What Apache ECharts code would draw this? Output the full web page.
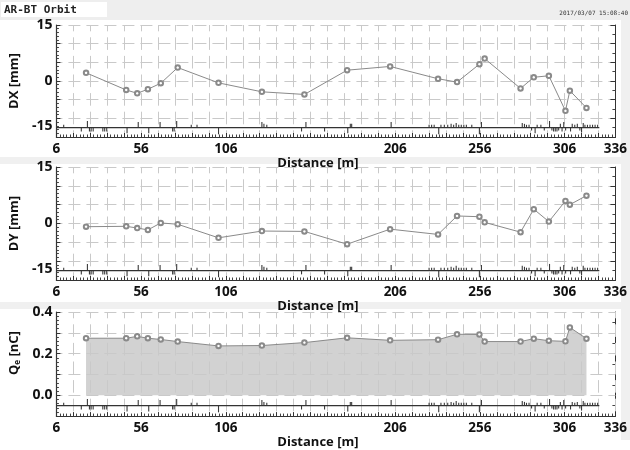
<!DOCTYPE html>
<html><head><meta charset="utf-8">
<script src="https://cdn.jsdelivr.net/npm/echarts@6/dist/echarts.min.js"></script>
<style>html,body{margin:0;padding:0;background:#fff}#c{width:630px;height:450px}</style>
</head><body><div id="c"></div><script>
// ---- data ----
const titleText = 'AR-BT Orbit';
const timeStamp = '2017/03/07 15:08:40';
const bpmPositions = [23.5, 47.2, 53.7, 60, 67.6, 77.6, 101.7, 127.3, 152.4, 177.6, 203, 231.3, 242.5, 255.7, 258.8, 280, 287.8, 296.7, 306.5, 309.1, 318.9];
const dxValues = [2.2, -2.4, -3.3, -2.2, -0.6, 3.6, -0.5, -2.9, -3.6, 2.9, 3.9, 0.6, -0.3, 4.5, 6.0, -2.0, 1.0, 1.4, -8.0, -2.6, -7.2];
const dyValues = [-0.85, -0.75, -1.2, -1.7, 0.15, -0.2, -3.8, -2.0, -2.1, -5.5, -1.5, -2.9, 2.0, 1.8, 0.3, -2.3, 3.8, 0.5, 6.0, 5.0, 7.4];
const qeValues = [0.274, 0.274, 0.283, 0.274, 0.268, 0.258, 0.237, 0.239, 0.253, 0.276, 0.264, 0.267, 0.293, 0.292, 0.258, 0.258, 0.272, 0.262, 0.259, 0.326, 0.272];
const xTickLabels = [6, 56, 106, 206, 256, 306, 336];
const dTickLabels = [15, 0, -15];
const qTickLabels = [0.4, 0.2, 0.0];
const beamlineStart = 6, beamlineEnd = 326.5;
// lattice elements: [position m, signed strength]
const elementPos = [10.3, 20.7, 24.3, 25.5, 26.5, 27.7, 33.4, 34.5, 35.7, 47.7, 54.3, 60.5, 67.2, 74.6, 75.5, 77, 85.6, 89, 101.7,
  127.3, 128.5, 130.2, 150.7, 153.3, 164.3, 178, 179.5, 180.3, 203.6,
  226, 227.5, 229, 231.7, 233, 235, 237, 239, 240.5, 242, 243.5, 245, 246.5, 248, 251.2, 255.7, 256.9,
  281, 282.3, 283.5, 285, 286.5, 288.6, 289.8, 292, 294, 297.1,
  298.5, 299.5, 300.5, 301.5, 302.5, 303.5, 304.5, 305.5, 306.6,
  309.5, 310.5, 312, 313.5, 315, 316, 317, 318, 319.5, 321, 322.5, 324, 325.5];
const elementStrength = [1.5, -2, 3.5, -2, -2, -2, -2, -2, -2, -3, 3, -3, 3, -2, -2, 3.5, 1.5, 1.5, -3.5,
  3, 2, 1.5, -2, 3, -2, -3, 2, 2, 3,
  1.5, 1.5, 1.5, -3.5, 1.5, 1.5, 1.5, 2, 1.5, 2.5, 1.5, 1.5, 1.5, 1.5, 1.5, -3.5, 3,
  2.5, 2, 1.5, 1.5, -1.5, -3, 1.5, 1.5, -1.5, 3.5,
  -1.5, -2, -2, -2, -1.5, 2, -2, 3, -1.5,
  -2, 2, 1.5, 2, -1.5, -2.5, 2.5, 1.5, 1.5, 1.5, 1.5, 1.5, 1.5];

// ---- layout / style ----
const FONT = 'Open Sans';
const grids = [
  {left: 38.5, top: 25, width: 581, height: 112},
  {left: 38.5, top: 167, width: 581, height: 113},
  {left: 43, top: 312, width: 576, height: 113}
];
const railLevels = [-12.5, -12.5, -0.05];
const gridLine = {show: true, lineStyle: {color: '#c9c9c9', width: 1, type: [12, 6], dashOffset: 6}};

function xAxisFor(i) {
  return {
    type: 'value', gridIndex: i, min: 6, max: 336, interval: 10,
    name: 'Distance [m]', nameLocation: 'middle', nameGap: 9,
    nameTextStyle: {fontFamily: FONT, fontWeight: 'bold', fontSize: 13, color: '#111', padding: [0, 36, 0, 0], verticalAlign: 'top'},
    axisLine: {show: true, onZero: false, lineStyle: {color: '#333', width: 1.2}},
    axisTick: {show: true, inside: true, length: 4, lineStyle: {color: '#333'}},
    minorTick: {show: true, splitNumber: 5, length: 2.5, lineStyle: {color: '#444'}},
    axisLabel: {margin: 5, fontFamily: FONT, fontWeight: 'bold', fontSize: 13.5, color: '#111',
      formatter: v => xTickLabels.indexOf(Math.round(v)) >= 0 ? String(Math.round(v)) : ''},
    splitLine: {show: true, lineStyle: {color: '#c9c9c9', width: 1, type: [12.6, 6], dashOffset: 6.3}},
    z: i === 2 ? 3 : 0
  };
}
function yLeftD(i, name) {
  return {
    type: 'value', gridIndex: i, min: -15, max: 15, interval: 5, position: 'left',
    name: name, nameLocation: 'middle', nameGap: 13,
    nameTextStyle: {fontFamily: FONT, fontWeight: 'bold', fontSize: 13, color: '#111'},
    axisLine: {show: true, onZero: false, lineStyle: {color: '#333', width: 1.2}},
    axisTick: {show: true, inside: true, length: 4, lineStyle: {color: '#333'}},
    minorTick: {show: true, splitNumber: 5, length: 2.5, lineStyle: {color: '#444'}},
    axisLabel: {margin: 4, fontFamily: FONT, fontWeight: 'bold', fontSize: 14, color: '#111',
      formatter: v => {
        const r = Math.round(v);
        if (dTickLabels.indexOf(r) < 0) return '';
        return r === -15 ? '{lo|' + r + '}' : String(r);
      },
      rich: {lo: {fontFamily: FONT, fontWeight: 'bold', fontSize: 14, color: '#111', padding: [0, 0, 21, 0]}}},
    splitLine: gridLine
  };
}
function yRight(i, min, max, interval) {
  return {
    type: 'value', gridIndex: i, min: min, max: max, interval: interval, position: 'right',
    axisLine: {show: true, onZero: false, lineStyle: {color: '#333', width: 1}},
    axisTick: {show: true, inside: true, length: 5, lineStyle: {color: '#333'}},
    minorTick: {show: true, splitNumber: 2, length: 3, lineStyle: {color: '#444'}},
    axisLabel: {show: false}, splitLine: {show: false}
  };
}
const yLeftQ = {
  type: 'value', gridIndex: 2, min: -0.1, max: 0.4, interval: 0.1, position: 'left',
  name: '{b|Q}{s|e}{b| [nC]}', nameLocation: 'middle', nameGap: 16,
  nameTextStyle: {fontFamily: FONT, fontWeight: 'bold', fontSize: 13, color: '#111', padding: [0, 0, 0, 22],
    rich: {b: {fontFamily: FONT, fontWeight: 'bold', fontSize: 13, color: '#111'},
           s: {fontFamily: FONT, fontWeight: 'bold', fontSize: 8, color: '#111', verticalAlign: 'bottom', padding: [6, 0, 0, 0]}}},
  axisLine: {show: true, onZero: false, lineStyle: {color: '#333', width: 1.2}},
  axisTick: {show: true, inside: true, length: 4, lineStyle: {color: '#333'}},
  minorTick: {show: true, splitNumber: 5, length: 2.5, lineStyle: {color: '#444'}},
  axisLabel: {margin: 4, fontFamily: FONT, fontWeight: 'bold', fontSize: 14, color: '#111',
    formatter: v => {
      const r = Math.round(v * 10) / 10;
      return qTickLabels.some(t => Math.abs(t - r) < 1e-9) ? r.toFixed(1) : '';
    }},
  splitLine: gridLine,
  z: 3
};

function pairs(xs, ys) { return xs.map((x, k) => [x, ys[k]]); }
const elementData = pairs(elementPos, elementStrength);

function orbitSeries(gi, values, extra) {
  return Object.assign({
    type: 'line', xAxisIndex: gi, yAxisIndex: gi, data: pairs(bpmPositions, values),
    symbol: 'emptyCircle', symbolSize: 4.5, showSymbol: true,
    lineStyle: {color: '#8a8a8a', width: 1}, itemStyle: {color: '#8a8a8a', borderWidth: 1},
    animation: false, z: 5
  }, extra || {});
}
function railSeries(gi) {
  return {
    type: 'line', xAxisIndex: gi, yAxisIndex: gi, data: [[beamlineStart, railLevels[gi]], [beamlineEnd, railLevels[gi]]],
    symbol: 'none', lineStyle: {color: '#333', width: 1.2}, animation: false, z: 6
  };
}
function elementSeries(gi) {
  return {
    type: 'custom', xAxisIndex: gi, yAxisIndex: gi, data: elementData, animation: false, z: 6,
    renderItem: (params, api) => {
      const p = api.coord([api.value(0), railLevels[gi]]);
      return {type: 'line', shape: {x1: p[0], y1: p[1], x2: p[0], y2: p[1] - api.value(1) * 1.9},
        style: {stroke: '#3a3a3a', lineWidth: 1.1}};
    }
  };
}

const chart = echarts.init(document.getElementById('c'), null, {renderer: 'canvas'});
chart.setOption({
  backgroundColor: '#ffffff',
  animation: false,
  grid: grids,
  xAxis: [xAxisFor(0), xAxisFor(1), xAxisFor(2)],
  yAxis: [yLeftD(0, 'DX [mm]'), yLeftD(1, 'DY [mm]'), yLeftQ,
          yRight(0, -15, 15, 5), yRight(1, -15, 15, 5), yRight(2, -0.1, 0.4, 0.1)],
  graphic: [
    {type: 'rect', z: -10, shape: {x: 0, y: 0, width: 630, height: 20}, style: {fill: '#eeeeee'}},
    {type: 'rect', z: -9, shape: {x: 1, y: 2, width: 106, height: 15}, style: {fill: '#ffffff'}},
    {type: 'text', z: -8, x: 4, y: 10, style: {text: titleText, font: 'bold 11px "DejaVu Sans Mono"', fill: '#222', verticalAlign: 'middle'}},
    {type: 'text', z: -8, x: 628, y: 13, style: {text: timeStamp, font: '6px "DejaVu Sans Mono"', fill: '#333', align: 'right', verticalAlign: 'middle'}},
    {type: 'rect', z: -10, shape: {x: 0, y: 157, width: 630, height: 7}, style: {fill: '#f0f0f0'}},
    {type: 'rect', z: -10, shape: {x: 0, y: 302, width: 630, height: 7}, style: {fill: '#f0f0f0'}},
    {type: 'rect', z: -10, shape: {x: 621, y: 20, width: 9, height: 420}, style: {fill: '#f0f0f0'}}
  ],
  series: [
    orbitSeries(0, dxValues), railSeries(0), elementSeries(0),
    orbitSeries(1, dyValues), railSeries(1), elementSeries(1),
    {type: 'line', xAxisIndex: 2, yAxisIndex: 2, data: pairs(bpmPositions, qeValues), symbol: 'none',
     lineStyle: {width: 0}, areaStyle: {color: '#d2d2d2', opacity: 1, origin: 0}, animation: false, z: 1},
    orbitSeries(2, qeValues), railSeries(2), elementSeries(2)
  ]
});
</script></body></html>
